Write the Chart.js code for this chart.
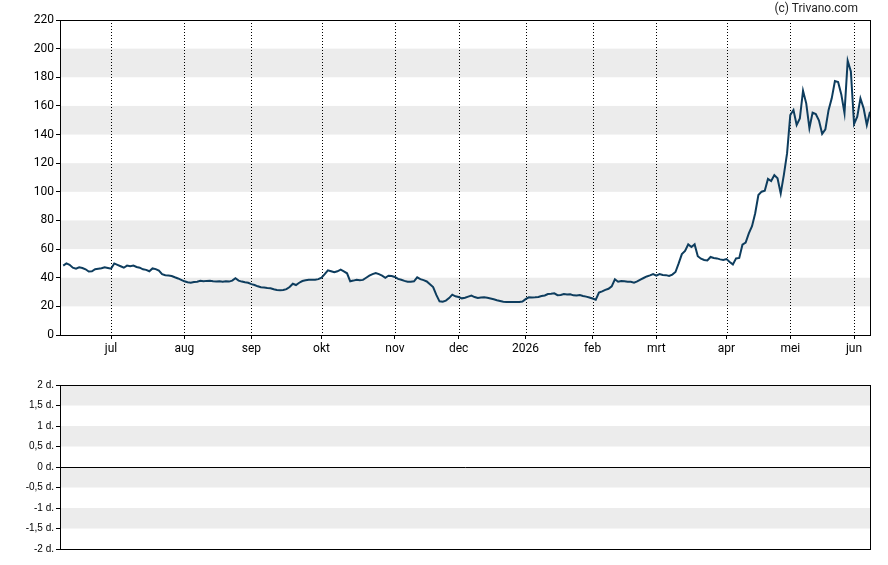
<!DOCTYPE html>
<html>
<head>
<meta charset="utf-8">
<script src="https://cdn.jsdelivr.net/npm/chart.js@4.4.1/dist/chart.umd.min.js"></script>
<style>
  html, body { margin: 0; padding: 0; background: #fff; }
  body { width: 888px; height: 565px; position: relative; overflow: hidden; }
  #top { position: absolute; left: 0; top: 0; }
  #bottom { position: absolute; left: 0; top: 365px; }
  #copy { position: absolute; right: 30px; top: 1px; font: 12px Roboto, sans-serif; color: #222; }
</style>
</head>
<body>
<canvas id="top" width="888" height="365"></canvas>
<canvas id="bottom" width="888" height="200"></canvas>
<div id="copy">(c) Trivano.com</div>
<script>
// ---- data (one value per trading day, index 0 = first day) ----
const prices = [
  48.5, 50, 49, 47, 46.3, 47.3, 46.8, 45.9, 44.3, 44.5,
  46, 46.3, 46.6, 47.3, 46.8, 46.3, 50, 49, 48, 47,
  48.5, 48, 48.5, 47.5, 47, 45.9, 45.5, 44.5, 46.5, 46,
  45, 42.5, 41.7, 41.5, 41.2, 40.3, 39.5, 38.5, 37.5, 36.8,
  36.5, 37, 37.2, 37.8, 37.5, 37.8, 37.9, 37.5, 37.3, 37.5,
  37.2, 37.5, 37.3, 38, 39.6, 38, 37.3, 36.8, 36.5, 35.5,
  34.9, 34, 33.3, 33.1, 32.8, 32.6, 31.9, 31.5, 31.3, 31.4,
  32, 33.5, 35.8, 34.9, 36.5, 37.7, 38.2, 38.6, 38.6, 38.6,
  39, 40, 42.5, 45.2, 44.5, 43.8, 44.5, 45.6, 44.5, 43.1,
  37.5, 38, 38.6, 38.3, 38.5, 40, 41.4, 42.5, 43.3, 42.5,
  41.4, 40, 41.4, 41.2, 40.5, 39.2, 38.6, 37.8, 37.2, 37.2,
  37.5, 40.3, 39, 38.3, 37.4, 35.5, 33.5, 28, 23.5, 23.3,
  24, 25.8, 28.2, 27, 26.5, 25.6, 26, 26.8, 27.5, 26.5,
  25.8, 26.2, 26.3, 26, 25.5, 25, 24.3, 23.8, 23.3, 23.1,
  23, 23, 23, 23, 23.4, 25, 26.3, 26.2, 26.3, 26.6,
  27.2, 27.6, 28.6, 28.8, 29.1, 27.8, 28, 28.6, 28.3, 28.5,
  27.7, 27.6, 27.9, 27.3, 26.8, 26.2, 25.5, 24.6, 29.6, 30.5,
  31.5, 32.3, 34, 38.9, 37.2, 37.7, 37.5, 37.2, 37.2, 36.6,
  37.4, 38.7, 39.8, 40.9, 41.6, 42.6, 41.5, 42.6, 41.9, 41.8,
  41.2, 42.2, 44, 50, 56.5, 58.7, 63.3, 61.5, 63.3, 55,
  53.3, 52.4, 52.1, 54.5, 53.8, 53.5, 52.8, 52.4, 53, 51,
  49.3, 53.5, 53.8, 63.1, 64.5, 71, 76, 85, 97.8, 100.1,
  100.8, 109, 107.5, 111.7, 109.5, 98.9, 112, 127, 153.6, 157.1,
  146.7, 151.3, 170.6, 161.8, 144.5, 155.3, 154.3, 149.8, 140.5, 143.6,
  157, 165.3, 177.4, 176.7, 168, 155, 191.6, 184, 147.4, 152.5,
  165.3, 158.3, 146.7, 156
];
// first trading day of each month (index into prices) and its label
const monthIdx = [15, 38, 59, 81, 104, 124, 145, 166, 186, 208, 228, 248];
const monthLabels = ['jul', 'aug', 'sep', 'okt', 'nov', 'dec', '2026', 'feb', 'mrt', 'apr', 'mei', 'jun'];
// shaded bands
const priceBands = [[20, 40], [60, 80], [100, 120], [140, 160], [180, 200]];
const spreadBands = [[1.5, 2], [0.5, 1], [-0.5, 0], [-1.5, -1]];
// axis ranges
const priceMin = 0, priceMax = 220, priceStep = 20;
const spreadMin = -2, spreadMax = 2, spreadStep = 0.5;

Chart.defaults.font.family = 'Roboto, sans-serif';
Chart.defaults.font.size = 12;
Chart.defaults.color = '#000';

const panelPlugin = {
  id: 'panel',
  beforeDraw(chart, args, opts) {
    const {ctx, chartArea: a} = chart;
    const y = chart.scales.y;
    ctx.save();
    ctx.fillStyle = '#ececec';
    (opts.bands || []).forEach(([lo, hi]) => {
      const y1 = y.getPixelForValue(hi), y2 = y.getPixelForValue(lo);
      ctx.fillRect(a.left, y1, a.right - a.left, y2 - y1);
    });
    ctx.restore();
  },
  beforeDatasetsDraw(chart, args, opts) {
    const {ctx, chartArea: a} = chart;
    ctx.save();
    if (opts.vlines) {
      const x = chart.scales.x;
      ctx.strokeStyle = '#000';
      ctx.lineWidth = 1;
      ctx.setLineDash([1, 2]);
      opts.vlines.forEach(v => {
        const px = Math.round(x.getPixelForValue(v)) + 0.5;
        ctx.beginPath();
        ctx.moveTo(px, a.top);
        ctx.lineTo(px, a.bottom);
        ctx.stroke();
      });
      ctx.setLineDash([]);
    }
    if (opts.zeroLine) {
      const py = Math.round(chart.scales.y.getPixelForValue(0)) + 0.5;
      ctx.strokeStyle = '#000';
      ctx.lineWidth = 1;
      ctx.beginPath();
      ctx.moveTo(a.left, py);
      ctx.lineTo(a.right, py);
      ctx.stroke();
    }
    ctx.restore();
  },
  afterDraw(chart) {
    const {ctx, chartArea: a} = chart;
    ctx.save();
    ctx.strokeStyle = '#000';
    ctx.lineWidth = 1;
    const l = Math.floor(a.left) - 0.5, r = Math.floor(a.right) + 0.5;
    const t = Math.floor(a.top) + 0.5, b = Math.floor(a.bottom) + 0.5;
    ctx.strokeRect(l, t, r - l, b - t);
    ctx.restore();
  }
};

new Chart(document.getElementById('top'), {
  type: 'line',
  data: {
    datasets: [{
      data: prices.map((v, i) => ({x: i, y: v})),
      borderColor: '#0e3d5e',
      borderWidth: 2,
      pointRadius: 0,
      tension: 0,
      fill: false
    }]
  },
  options: {
    responsive: false,
    animation: false,
    devicePixelRatio: 1,
    layout: {padding: {top: 20, right: 18, bottom: 0, left: 0}},
    plugins: {
      legend: {display: false},
      tooltip: {enabled: false},
      panel: {bands: priceBands, vlines: monthIdx}
    },
    scales: {
      x: {
        type: 'linear',
        min: -0.7,
        max: prices.length - 1,
        afterBuildTicks: s => { s.ticks = monthIdx.map(v => ({value: v})); },
        afterFit: s => { s.height = 30; },
        ticks: {
          autoSkip: false, maxRotation: 0, padding: 3, color: '#000',
          callback: (v, i) => monthLabels[monthIdx.indexOf(v)]
        },
        grid: {drawOnChartArea: false, drawTicks: true, tickLength: 4, color: '#000'},
        border: {display: false}
      },
      y: {
        min: priceMin, max: priceMax,
        ticks: {stepSize: priceStep, padding: 2, color: '#000'},
        afterFit: s => { s.width = 61; },
        grid: {drawOnChartArea: false, drawTicks: true, tickLength: 5, color: '#000'},
        border: {display: false}
      }
    }
  },
  plugins: [panelPlugin]
});

new Chart(document.getElementById('bottom'), {
  type: 'line',
  data: {datasets: []},
  options: {
    responsive: false,
    animation: false,
    devicePixelRatio: 1,
    layout: {padding: {top: 20, right: 18, bottom: 16, left: 0}},
    plugins: {
      legend: {display: false},
      tooltip: {enabled: false},
      panel: {bands: spreadBands, zeroLine: true}
    },
    scales: {
      x: {type: 'linear', min: 0, max: 1, display: false},
      y: {
        min: spreadMin, max: spreadMax,
        ticks: {
          stepSize: spreadStep, padding: 2, color: '#000',
          font: {family: '"Liberation Sans", Arial, sans-serif', size: 10},
          callback: v => String(v).replace('.', ',') + ' d.'
        },
        afterFit: s => { s.width = 61; },
        grid: {drawOnChartArea: false, drawTicks: true, tickLength: 5, color: '#000'},
        border: {display: false}
      }
    }
  },
  plugins: [panelPlugin]
});
</script>
</body>
</html>
